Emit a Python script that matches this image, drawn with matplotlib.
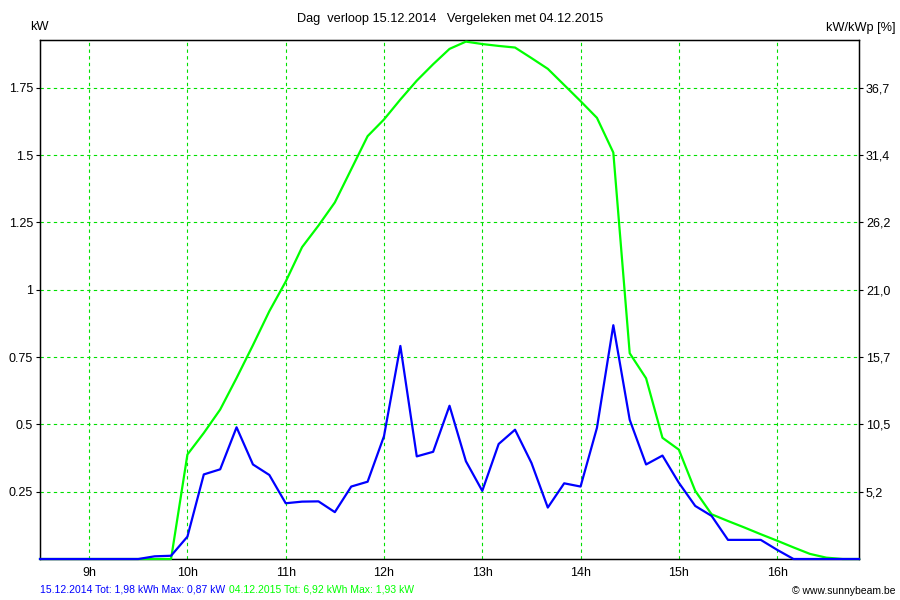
import numpy as np
import matplotlib
matplotlib.use("Agg")
import matplotlib.pyplot as plt

plt.rcParams['font.family'] = ['Liberation Sans', 'DejaVu Sans']

# tijdstippen (10 minuten interval)
times = ["08:30", "08:40", "08:50", "09:00", "09:10", "09:20", "09:30", "09:40", "09:50",
         "10:00", "10:10", "10:20", "10:30", "10:40", "10:50",
         "11:00", "11:10", "11:20", "11:30", "11:40", "11:50",
         "12:00", "12:10", "12:20", "12:30", "12:40", "12:50",
         "13:00", "13:10", "13:20", "13:30", "13:40", "13:50",
         "14:00", "14:10", "14:20", "14:30", "14:40", "14:50",
         "15:00", "15:10", "15:20", "15:30", "15:40", "15:50",
         "16:00", "16:10", "16:20", "16:30", "16:40", "16:50"]

# 15.12.2014 (blauw), kW
kw_2014 = [0, 0, 0, 0, 0, 0, 0, 0.01, 0.012,
           0.083, 0.314, 0.333, 0.489, 0.351, 0.312,
           0.207, 0.213, 0.214, 0.174, 0.269, 0.287,
           0.456, 0.791, 0.381, 0.398, 0.569, 0.363,
           0.253, 0.427, 0.480, 0.357, 0.191, 0.281,
           0.269, 0.487, 0.868, 0.517, 0.351, 0.384,
           0.283, 0.197, 0.160, 0.071, 0.071, 0.071,
           0.034, 0.0, 0, 0, 0, 0]

# 04.12.2015 (groen), kW
kw_2015 = [0, 0, 0, 0, 0, 0, 0, 0, 0,
           0.388, 0.468, 0.555, 0.672, 0.794, 0.920,
           1.03, 1.158, 1.238, 1.324, 1.447, 1.570,
           1.632, 1.706, 1.776, 1.837, 1.894, 1.921,
           1.912, 1.905, 1.899, 1.86, 1.82, 1.76,
           1.70, 1.638, 1.509, 0.764, 0.671, 0.450,
           0.406, 0.253, 0.166, 0.141, 0.117, 0.092,
           0.068, 0.043, 0.019, 0.005, 0, 0]

y_ticks = [0.25, 0.5, 0.75, 1, 1.25, 1.5, 1.75]
y_labels = ["0.25", "0.5", "0.75", "1", "1.25", "1.5", "1.75"]
pct_labels = ["5,2", "10,5", "15,7", "21,0", "26,2", "31,4", "36,7"]
x_ticks = [9, 10, 11, 12, 13, 14, 15, 16]
x_labels = ["%dh" % h for h in x_ticks]

hours = np.array([int(t[:2]) + int(t[3:]) / 60 for t in times])

BLUE = "#0000ff"
GREEN = "#00ff00"
GRID = "#00e000"

fig = plt.figure(figsize=(9, 6), dpi=100)
ax = fig.add_axes([40 / 900, 1 - 559 / 600, 819 / 900, 519 / 600])

ax.plot(hours, kw_2015, color=GREEN, lw=1.6, zorder=5, clip_on=False)
ax.plot(hours, kw_2014, color=BLUE, lw=1.6, zorder=6, clip_on=False)

ax.set_xlim(8.5, 16.833)
ax.set_ylim(0, 1.927)
ax.set_xticks(x_ticks)
ax.set_xticklabels(x_labels)
ax.set_yticks(y_ticks)
ax.set_yticklabels(y_labels)
ax.tick_params(axis='x', length=0, pad=6, labelsize=9)
ax.tick_params(axis='y', length=3, width=0.8, pad=2, labelsize=9)
ax.grid(True, color=GRID, linestyle=(0, (3, 3)), linewidth=0.8)
for s in ax.spines.values():
    s.set_linewidth(1.0)
    s.set_color("black")
    s.set_zorder(4)

ax2 = ax.twinx()
ax2.set_ylim(ax.get_ylim())
ax2.set_yticks(y_ticks)
ax2.set_yticklabels(pct_labels)
ax2.tick_params(axis='y', length=3, width=0.8, pad=2, labelsize=9)
ax2.set_zorder(ax.get_zorder() - 1)
ax.patch.set_visible(False)

fig.text(0.5, 1 - 19 / 600, "Dag  verloop 15.12.2014   Vergeleken met 04.12.2015",
         ha='center', va='center', fontsize=9.2)
fig.text(30 / 900, 1 - 27 / 600, "kW", ha='left', va='center', fontsize=9.2)
fig.text(896 / 900, 1 - 28 / 600, "kW/kWp [%]", ha='right', va='center', fontsize=9.2)

# voettekst: blauw en groen achter elkaar
t1 = fig.text(40 / 900, 1 - 589 / 600, "15.12.2014 Tot: 1,98 kWh Max: 0,87 kW",
              ha='left', va='center', fontsize=7.5, color=BLUE)
fig.canvas.draw()
bb = t1.get_window_extent()
fig.text((bb.x1 + 4) / 900, 1 - 589 / 600, "04.12.2015 Tot: 6,92 kWh Max: 1,93 kW",
         ha='left', va='center', fontsize=7.5, color=GREEN)
fig.text(896 / 900, 1 - 591 / 600, "\u00a9 www.sunnybeam.be",
         ha='right', va='center', fontsize=7.5)

fig.savefig("out.png", dpi=100)
